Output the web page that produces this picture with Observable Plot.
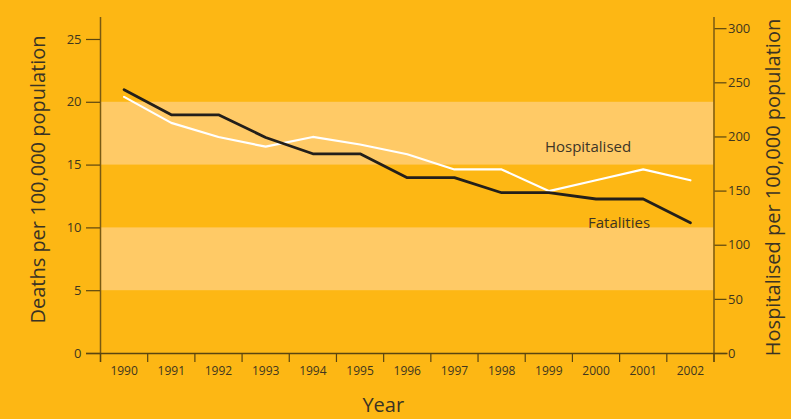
<!DOCTYPE html>
<html>
<head>
<meta charset="utf-8">
<script src="https://cdn.jsdelivr.net/npm/d3@7"></script>
<script src="https://cdn.jsdelivr.net/npm/@observablehq/plot@0.6"></script>
<style>
  html, body { margin: 0; padding: 0; background: #FDB714; }
  #chart { width: 791px; height: 419px; overflow: hidden; }
</style>
</head>
<body>
<div id="chart"></div>
<script>
// ---- data ----
const years = [1990, 1991, 1992, 1993, 1994, 1995, 1996, 1997, 1998, 1999, 2000, 2001, 2002];
const fatalities = [21.0, 19.0, 19.0, 17.2, 15.9, 15.9, 14.0, 14.0, 12.8, 12.8, 12.3, 12.3, 10.4];
const hospitalised = [237, 213, 200, 191, 200, 193, 184, 170, 170, 150, 160, 170, 160];
const leftTicks = [0, 5, 10, 15, 20, 25];
const rightTicks = [0, 50, 100, 150, 200, 250, 300];
const bandRanges = [[5, 10], [15, 20]];
const leftTitle = "Deaths per 100,000 population";
const rightTitle = "Hospitalised per 100,000 population";
const xTitle = "Year";

// ---- derived ----
const k = 0.0862; // hospitalised units -> deaths-axis units
const rows = years.map((year, i) => ({year, fatalities: fatalities[i], hospitalised: hospitalised[i] * k}));
const xDomain = [d3.min(years) - 0.5, d3.max(years) + 0.5];
const yearEdges = d3.range(xDomain[0], xDomain[1] + 0.01, 1);

const axisColor = "#7a5a12";
const textColor = "#40361f";

const chart = Plot.plot({
  width: 791,
  height: 419,
  marginLeft: 100,
  marginRight: 77.5,
  marginTop: 17,
  marginBottom: 66,
  style: {background: "#FDB714", fontFamily: "'Open Sans', sans-serif", color: textColor, overflow: "visible"},
  x: {domain: xDomain},
  y: {domain: [0, 26.75]},
  marks: [
    Plot.rect(bandRanges, {y1: d => d[0], y2: d => d[1], fill: "#FFCA66"}),
    // axis lines
    Plot.ruleX([xDomain[0], xDomain[1]], {stroke: axisColor, strokeWidth: 1.5, insetBottom: -9}),
    Plot.ruleY([0], {stroke: "#5a4510", strokeWidth: 1.5, insetLeft: -14, insetRight: -14}),
    // x ticks at year boundaries
    Plot.axisX(yearEdges, {tickSize: 9, tickFormat: () => "", stroke: "#5a4510", strokeWidth: 1.2, label: null}),
    // x labels at year centres
    Plot.axisX(years, {tickSize: 0, tickPadding: 13, tickFormat: d => String(d), fontSize: 12, fill: textColor, label: null}),
    // left y
    Plot.axisY(leftTicks, {anchor: "left", tickSize: 14, tickPadding: 5, fontSize: 13, stroke: "#5a4510", strokeWidth: 1.2, fill: textColor, label: null}),
    // right y (hospitalised)
    Plot.axisY(rightTicks.map(v => v * k), {anchor: "right", tickSize: 12, tickPadding: 2, fontSize: 13, stroke: "#5a4510", strokeWidth: 1.2, fill: textColor, tickFormat: d => String(Math.round(d / k)), label: null}),
    // lines
    Plot.line(rows, {x: "year", y: "hospitalised", stroke: "#ffffff", strokeWidth: 2.2}),
    Plot.line(rows, {x: "year", y: "fatalities", stroke: "#231f1a", strokeWidth: 2.8}),
    // series labels
    Plot.text(rows, {filter: d => d.year === 2000, x: "year", y: "hospitalised", text: () => "Hospitalised", dx: -8, dy: -33, fontSize: 15, fill: "#3d3526"}),
    Plot.text(rows, {filter: d => d.year === 2000, x: "year", y: "fatalities", text: () => "Fatalities", dx: 23, dy: 24, fontSize: 15, fill: "#3d3526"}),
    // axis titles
    Plot.text([leftTitle], {text: d => d, frameAnchor: "left", textAnchor: "middle", rotate: -90, dx: -62, dy: -6, fontSize: 20, fill: "#3a3324"}),
    Plot.text([rightTitle], {text: d => d, frameAnchor: "right", textAnchor: "middle", rotate: -90, dx: 59.5, dy: 2, fontSize: 20, fill: "#3a3324"}),
    Plot.text([xTitle], {text: d => d, frameAnchor: "bottom", textAnchor: "middle", dx: -24, dy: 58, fontSize: 20, fill: "#3a3324"})
  ]
});
document.getElementById("chart").appendChild(chart);
</script>
</body>
</html>
